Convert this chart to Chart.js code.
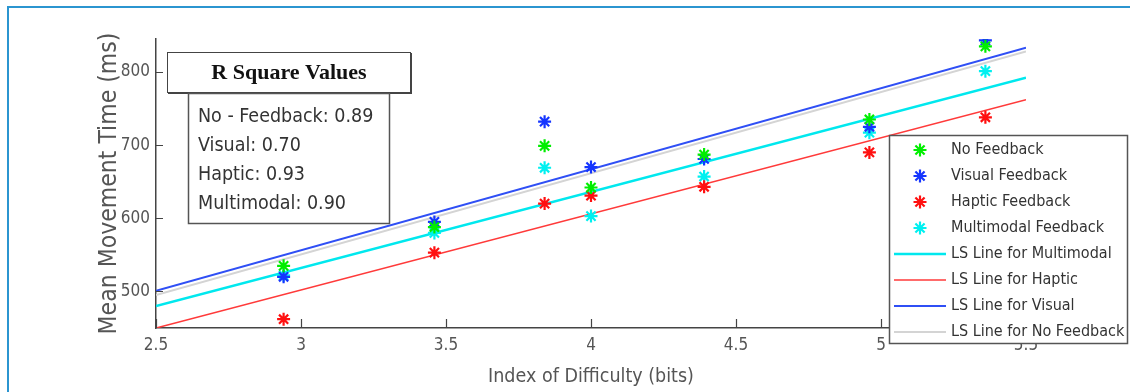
<!DOCTYPE html>
<html>
<head>
<meta charset="utf-8">
<script src="https://cdn.jsdelivr.net/npm/chart.js@4"></script>
<style>
    html, body { margin: 0; padding: 0; background: #fff; }
    .wrap { position: relative; width: 1130px; height: 392px; }
    .frame { position: absolute; left: 7px; top: 6px; right: 0; bottom: 0;
             border-left: 2px solid #2b95d0; border-top: 2px solid #2b95d0; pointer-events: none; }
    canvas { display: block; }
</style>
</head>
<body>
<div class="wrap">
    <canvas id="fittsChart" width="1130" height="392"></canvas>
    <div class="frame"></div>
</div>
<script>
// Index of difficulty for each condition (bits)
const idValues = [2.94, 3.46, 3.84, 4.0, 4.39, 4.96, 5.36];

// Mean movement time (ms) per feedback type
const noFeedback = [535, 588, 699, 642, 687, 735, 835];
const visualFeedback = [520, 595, 732, 670, 681, 725, 843];
const hapticFeedback = [462, 553, 620, 631, 643, 690, 738];
const multimodalFeedback = [522, 580, 669, 603, 657, 717, 801];

// Least squares line end points
const lsX = [2.5, 5.5];
const lsMultimodal = [480, 792];
const lsHaptic = [450, 762];
const lsVisual = [501, 833];
const lsNoFeedback = [495, 828];

const xTicks = [2.5, 3, 3.5, 4, 4.5, 5, 5.5];
const yTicks = [500, 600, 700, 800];

const rSquareTitle = 'R Square Values';
const rSquareLines = ['No - Feedback: 0.89', 'Visual: 0.70', 'Haptic: 0.93', 'Multimodal: 0.90'];

const FONT = '"DejaVu Sans Condensed", "DejaVu Sans", sans-serif';

function pts(xs, ys) {
    return xs.map((x, i) => ({ x: x, y: ys[i] }));
}

function starSet(label, ys, color) {
    return {
        type: 'scatter', label: label, data: pts(idValues, ys),
        pointStyle: 'star', pointRadius: 6.5, pointBorderWidth: 2.2,
        borderColor: color, backgroundColor: color, showLine: false, order: 1
    };
}

function lineSet(label, ys, color, width) {
    return {
        type: 'line', label: label, data: pts(lsX, ys),
        borderColor: color, backgroundColor: color, borderWidth: width,
        pointRadius: 0, fill: false, order: 2
    };
}

// inward tick marks like the MATLAB axes
const innerTicks = {
    id: 'innerTicks',
    afterDatasetsDraw(chart) {
        const ctx = chart.ctx;
        const xs = chart.scales.x, ys = chart.scales.y;
        const area = chart.chartArea;
        ctx.save();
        ctx.strokeStyle = '#444';
        ctx.lineWidth = 1.2;
        ctx.beginPath();
        xTicks.forEach(v => {
            const px = Math.round(xs.getPixelForValue(v)) + 0.5;
            ctx.moveTo(px, area.bottom);
            ctx.lineTo(px, area.bottom - 9);
        });
        yTicks.forEach(v => {
            const py = Math.round(ys.getPixelForValue(v)) + 0.5;
            ctx.moveTo(area.left, py);
            ctx.lineTo(area.left + 7, py);
        });
        ctx.stroke();
        ctx.restore();
    }
};

// R square text boxes
const rSquareBox = {
    id: 'rSquareBox',
    afterDraw(chart) {
        const ctx = chart.ctx;
        ctx.save();
        // title box
        ctx.fillStyle = '#fff';
        ctx.fillRect(167, 52, 243, 40);
        ctx.strokeStyle = '#444';
        ctx.lineWidth = 1;
        ctx.strokeRect(167.5, 52.5, 243, 40);
        ctx.lineWidth = 2;
        ctx.beginPath();
        ctx.moveTo(168, 93); ctx.lineTo(411, 93); ctx.lineTo(411, 53);
        ctx.stroke();
        ctx.fillStyle = '#111';
        ctx.font = 'bold 22px "Liberation Serif", serif';
        ctx.textAlign = 'center';
        ctx.textBaseline = 'middle';
        ctx.fillText(rSquareTitle, 289, 73);
        // values box
        ctx.fillStyle = '#fff';
        ctx.fillRect(188, 93, 201, 130);
        ctx.strokeStyle = '#555';
        ctx.lineWidth = 1.5;
        ctx.strokeRect(188.5, 93.5, 201, 130);
        ctx.fillStyle = '#333';
        ctx.font = '19.5px ' + FONT;
        ctx.textAlign = 'left';
        rSquareLines.forEach((t, i) => ctx.fillText(t, 198, 117 + i * 29));
        ctx.restore();
    }
};

// legend box in the lower right, same look as the MATLAB legend
const boxLegend = {
    id: 'boxLegend',
    afterDraw(chart) {
        const ctx = chart.ctx;
        const x0 = 889, y0 = 135, w = 239, h = 209;
        ctx.save();
        ctx.fillStyle = '#fff';
        ctx.fillRect(x0, y0, w, h);
        ctx.strokeStyle = '#555';
        ctx.lineWidth = 1.5;
        ctx.strokeRect(x0 + 0.5, y0 + 0.5, w - 1, h - 1);
        ctx.font = '16px ' + FONT;
        ctx.textBaseline = 'middle';
        chart.data.datasets.forEach((ds, i) => {
            const cy = y0 + 15 + i * 26;
            if (ds.type === 'scatter') {
                const r = 6.5;
                ctx.strokeStyle = ds.borderColor;
                ctx.lineWidth = 2.2;
                ctx.beginPath();
                for (let k = 0; k < 4; k++) {
                    const a = k * Math.PI / 4;
                    ctx.moveTo(920 - r * Math.sin(a), cy - r * Math.cos(a));
                    ctx.lineTo(920 + r * Math.sin(a), cy + r * Math.cos(a));
                }
                ctx.stroke();
            } else {
                ctx.strokeStyle = ds.borderColor;
                ctx.lineWidth = ds.borderWidth;
                ctx.beginPath();
                ctx.moveTo(894, cy); ctx.lineTo(946, cy);
                ctx.stroke();
            }
            ctx.fillStyle = '#333';
            ctx.fillText(ds.label, 951, cy);
        });
        ctx.restore();
    }
};

const ctx = document.getElementById('fittsChart').getContext('2d');
const fittsChart = new Chart(ctx, {
    data: {
        datasets: [
            starSet('No Feedback', noFeedback, '#00ee00'),
            starSet('Visual Feedback', visualFeedback, '#1535ff'),
            starSet('Haptic Feedback', hapticFeedback, '#ff1010'),
            starSet('Multimodal Feedback', multimodalFeedback, '#00f0f0'),
            lineSet('LS Line for Multimodal', lsMultimodal, '#00e8ee', 2.5),
            lineSet('LS Line for Haptic', lsHaptic, '#ff3a3a', 1.6),
            lineSet('LS Line for Visual', lsVisual, '#2f4ff5', 2),
            lineSet('LS Line for No Feedback', lsNoFeedback, '#d4d4d4', 2)
        ]
    },
    options: {
        responsive: false,
        animation: false,
        layout: { padding: { left: 95, top: 39, right: 104, bottom: 0 } },
        plugins: {
            legend: { display: false },
            tooltip: { enabled: false }
        },
        scales: {
            x: {
                type: 'linear', min: 2.5, max: 5.5,
                afterBuildTicks: s => { s.ticks = xTicks.map(v => ({ value: v })); },
                afterFit: s => { s.height = 64; },
                grid: { display: false, drawTicks: false },
                border: { display: true, color: '#444', width: 1.5 },
                ticks: { color: '#555', font: { family: FONT, size: 17 }, padding: 7,
                         maxRotation: 0, autoSkip: false, callback: v => String(v) },
                title: { display: true, text: 'Index of Difficulty (bits)', color: '#555',
                         font: { family: FONT, size: 19.5 }, padding: { top: 0, bottom: 3 } }
            },
            y: {
                type: 'linear', min: 450, max: 845,
                afterBuildTicks: s => { s.ticks = yTicks.map(v => ({ value: v })); },
                afterFit: s => { s.width = 61; },
                grid: { display: false, drawTicks: false },
                border: { display: true, color: '#444', width: 1.5 },
                ticks: { color: '#555', font: { family: FONT, size: 17 }, padding: 6 },
                title: { display: true, text: 'Mean Movement Time (ms)', color: '#555',
                         font: { family: FONT, size: 24.5 }, padding: { top: 0, bottom: 0 } }
            }
        }
    },
    plugins: [innerTicks, rSquareBox, boxLegend]
});
</script>
</body>
</html>
